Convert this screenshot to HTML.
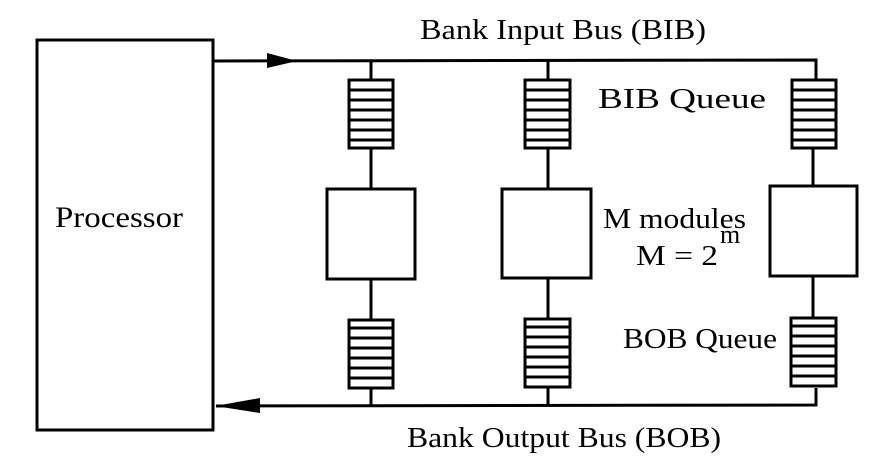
<!DOCTYPE html>
<html><head><style>
html,body{margin:0;padding:0;background:#fff;}
svg{display:block;}
text{font-family:"Liberation Serif",serif;fill:#000;}
</style></head><body>
<svg width="888" height="472" viewBox="0 0 888 472" xmlns="http://www.w3.org/2000/svg">
<g stroke="#000" fill="none" stroke-width="3">
<rect x="37" y="40" width="176" height="390"/>
<polyline points="213,61 816,60 816,80"/>
<polyline points="216,406 816,405 816,388"/>
<line x1="371" y1="61" x2="371" y2="80"/>
<line x1="371" y1="148" x2="371" y2="189"/>
<line x1="371" y1="279" x2="371" y2="320"/>
<line x1="371" y1="388" x2="371" y2="406"/>
<line x1="548" y1="61" x2="548" y2="80"/>
<line x1="548" y1="148" x2="548" y2="189"/>
<line x1="548" y1="279" x2="548" y2="320"/>
<line x1="548" y1="388" x2="548" y2="406"/>
<line x1="813" y1="148" x2="813" y2="186"/>
<line x1="813" y1="277" x2="813" y2="318"/>
<rect x="327" y="189" width="88" height="90"/>
<rect x="502" y="189" width="89" height="89"/>
<rect x="770" y="186" width="87" height="90"/>
</g>
<g stroke="#000" fill="none">
<g transform="translate(349,80)"><rect width="44" height="68" stroke-width="3"/><path d="M0 10H44M0 20H44M0 30H44M0 40H44M0 50H44M0 60H44" stroke-width="3"/></g>
<g transform="translate(525,80)"><rect width="45" height="68" stroke-width="3"/><path d="M0 10H45M0 20H45M0 30H45M0 40H45M0 50H45M0 60H45" stroke-width="3"/></g>
<g transform="translate(792,80)"><rect width="44" height="68" stroke-width="3"/><path d="M0 10H44M0 20H44M0 30H44M0 40H44M0 50H44M0 60H44" stroke-width="3"/></g>
<g transform="translate(349,320)"><rect width="44" height="68" stroke-width="3"/><path d="M0 8H44M0 18H44M0 28H44M0 38H44M0 48H44M0 58H44" stroke-width="3"/></g>
<g transform="translate(525,319)"><rect width="45" height="68" stroke-width="3"/><path d="M0 8H45M0 18H45M0 28H45M0 38H45M0 48H45M0 58H45" stroke-width="3"/></g>
<g transform="translate(791,318)"><rect width="45" height="68" stroke-width="3"/><path d="M0 8H45M0 18H45M0 28H45M0 38H45M0 48H45M0 58H45" stroke-width="3"/></g>
</g>
<polygon points="267,53 297,61 267,68" fill="#000"/>
<polygon points="260,398 215,406 260,413" fill="#000"/>
<text x="420" y="39" font-size="29" textLength="286" lengthAdjust="spacingAndGlyphs">Bank Input Bus (BIB)</text>
<text x="598" y="108" font-size="28" textLength="168" lengthAdjust="spacingAndGlyphs">BIB Queue</text>
<text x="55" y="227" font-size="30" textLength="128" lengthAdjust="spacingAndGlyphs">Processor</text>
<text x="603" y="228" font-size="29" textLength="143" lengthAdjust="spacingAndGlyphs">M modules</text>
<text x="636" y="265" font-size="29" textLength="82" lengthAdjust="spacingAndGlyphs">M = 2</text>
<text x="720" y="243" font-size="26">m</text>
<text x="623" y="348" font-size="28" textLength="154" lengthAdjust="spacingAndGlyphs">BOB Queue</text>
<text x="407" y="447" font-size="29" textLength="314" lengthAdjust="spacingAndGlyphs">Bank Output Bus (BOB)</text>
</svg>
</body></html>
